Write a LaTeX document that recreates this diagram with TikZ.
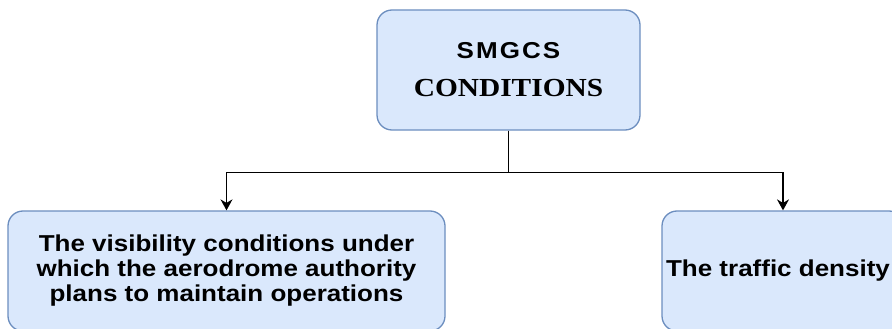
\documentclass[tikz,border=0pt]{standalone}
\usepackage{fontspec}
\usetikzlibrary{arrows.meta}
\newfontfamily\boxsans[FakeStretch=1.13]{Liberation Sans}
\newfontfamily\boxserif[FakeStretch=1.13]{Liberation Serif}
\definecolor{boxfill}{HTML}{DAE8FC}
\definecolor{boxline}{HTML}{6C8EBF}
\begin{document}
	\begin{tikzpicture}[x=1pt,y=-1pt,
		box/.style={draw=boxline,fill=boxfill,line width=1.3pt,rounded corners=15pt,align=center,inner sep=0pt,font=\boxsans\bfseries\fontsize{23}{25}\selectfont},
		link/.style={line width=1.4pt,-{Stealth[length=11pt,width=12pt]}}]
		\useasboundingbox (0,0) rectangle (892,329);
		\node[box,minimum width=263pt,minimum height=120pt] (smgcs) at (508.5,70) {{\addfontfeature{LetterSpace=9}SMGCS}\\[13pt]{\boxserif\bfseries\fontsize{26}{25}\selectfont CONDITIONS}};
		\node[box,minimum width=437pt,minimum height=120pt] (vis) at (226.5,271) {The visibility conditions under\\which the aerodrome authority\\plans to maintain operations};
		\node[box,minimum width=242pt,minimum height=120pt] (traffic) at (783,271) {\hspace*{-10pt}The traffic density};
		\draw[link] (smgcs.south) -- ++(0,42) -| (vis.north);
		\draw[link] (smgcs.south) -- ++(0,42) -| (traffic.north);
	\end{tikzpicture}
\end{document}
